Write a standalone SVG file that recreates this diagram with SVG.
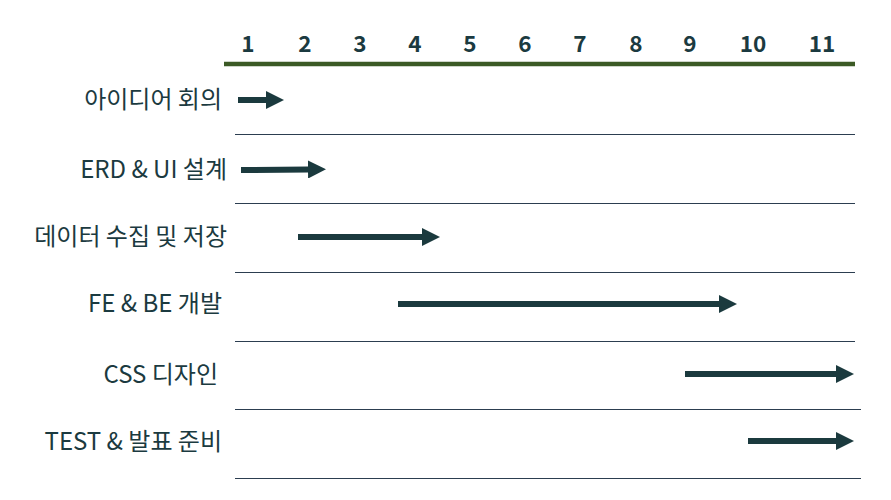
<svg xmlns="http://www.w3.org/2000/svg" width="891" height="500" viewBox="0 0 891 500">
<defs>
<style>
.num{font-family:"Noto Sans CJK KR","Noto Sans",sans-serif;font-weight:bold;font-size:22.5px;fill:#1b3a40;text-anchor:middle}
.lbl{font-family:"Noto Sans CJK KR","Noto Sans",sans-serif;font-weight:400;font-size:24px;fill:#1b3a40;text-anchor:end}
.sep{stroke:#2c3e50;stroke-width:1}
.arr{stroke:#1b3a3e;stroke-width:6;marker-end:url(#ah)}
</style>
<marker id="ah" markerUnits="userSpaceOnUse" markerWidth="18" markerHeight="18" refX="0" refY="9" orient="auto" viewBox="0 0 18 18">
<path d="M0,0 L18,9 L0,18 Z" fill="#1b3a3e"/>
</marker>
</defs>
<rect width="891" height="500" fill="#ffffff"/>
<g id="axis">
<line x1="224" y1="64" x2="855" y2="64" stroke="#3b5a25" stroke-width="4.5"/>
<text class="num" x="248" y="52">1</text>
<text class="num" x="305" y="52">2</text>
<text class="num" x="360" y="52">3</text>
<text class="num" x="415" y="52">4</text>
<text class="num" x="470" y="52">5</text>
<text class="num" x="525" y="52">6</text>
<text class="num" x="580" y="52">7</text>
<text class="num" x="636" y="52">8</text>
<text class="num" x="690" y="52">9</text>
<text class="num" x="753" y="52">10</text>
<text class="num" x="822" y="52">11</text>
</g>
<g id="separators">
<line class="sep" x1="235" y1="134.5" x2="855" y2="134.5"/>
<line class="sep" x1="235" y1="203.5" x2="855" y2="203.5"/>
<line class="sep" x1="235" y1="272.5" x2="855" y2="272.5"/>
<line class="sep" x1="235" y1="341.5" x2="855" y2="341.5"/>
<line class="sep" x1="235" y1="409.5" x2="861" y2="409.5"/>
<line class="sep" x1="235" y1="478.5" x2="861" y2="478.5"/>
</g>
<g id="task1"><text class="lbl" x="222" y="108">아이디어 회의</text></g>
<g id="task2"><text class="lbl" x="227" y="178">ERD &amp; UI 설계</text></g>
<g id="task3"><text class="lbl" x="227" y="245">데이터 수집 및 저장</text></g>
<g id="task4"><text class="lbl" x="222" y="312">FE &amp; BE 개발</text></g>
<g id="task5"><text class="lbl" x="218" y="383">CSS 디자인</text></g>
<g id="task6"><text class="lbl" x="222" y="450">TEST &amp; 발표 준비</text></g>
<g id="connectors">
<line class="arr" x1="238" y1="100" x2="266" y2="100"/>
<line class="arr" x1="241" y1="170" x2="308" y2="169.5"/>
<line class="arr" x1="298" y1="237" x2="422" y2="237"/>
<line class="arr" x1="398" y1="304" x2="719" y2="304"/>
<line class="arr" x1="685" y1="374" x2="836" y2="374"/>
<line class="arr" x1="748" y1="441" x2="836" y2="441"/>
</g>
</svg>
